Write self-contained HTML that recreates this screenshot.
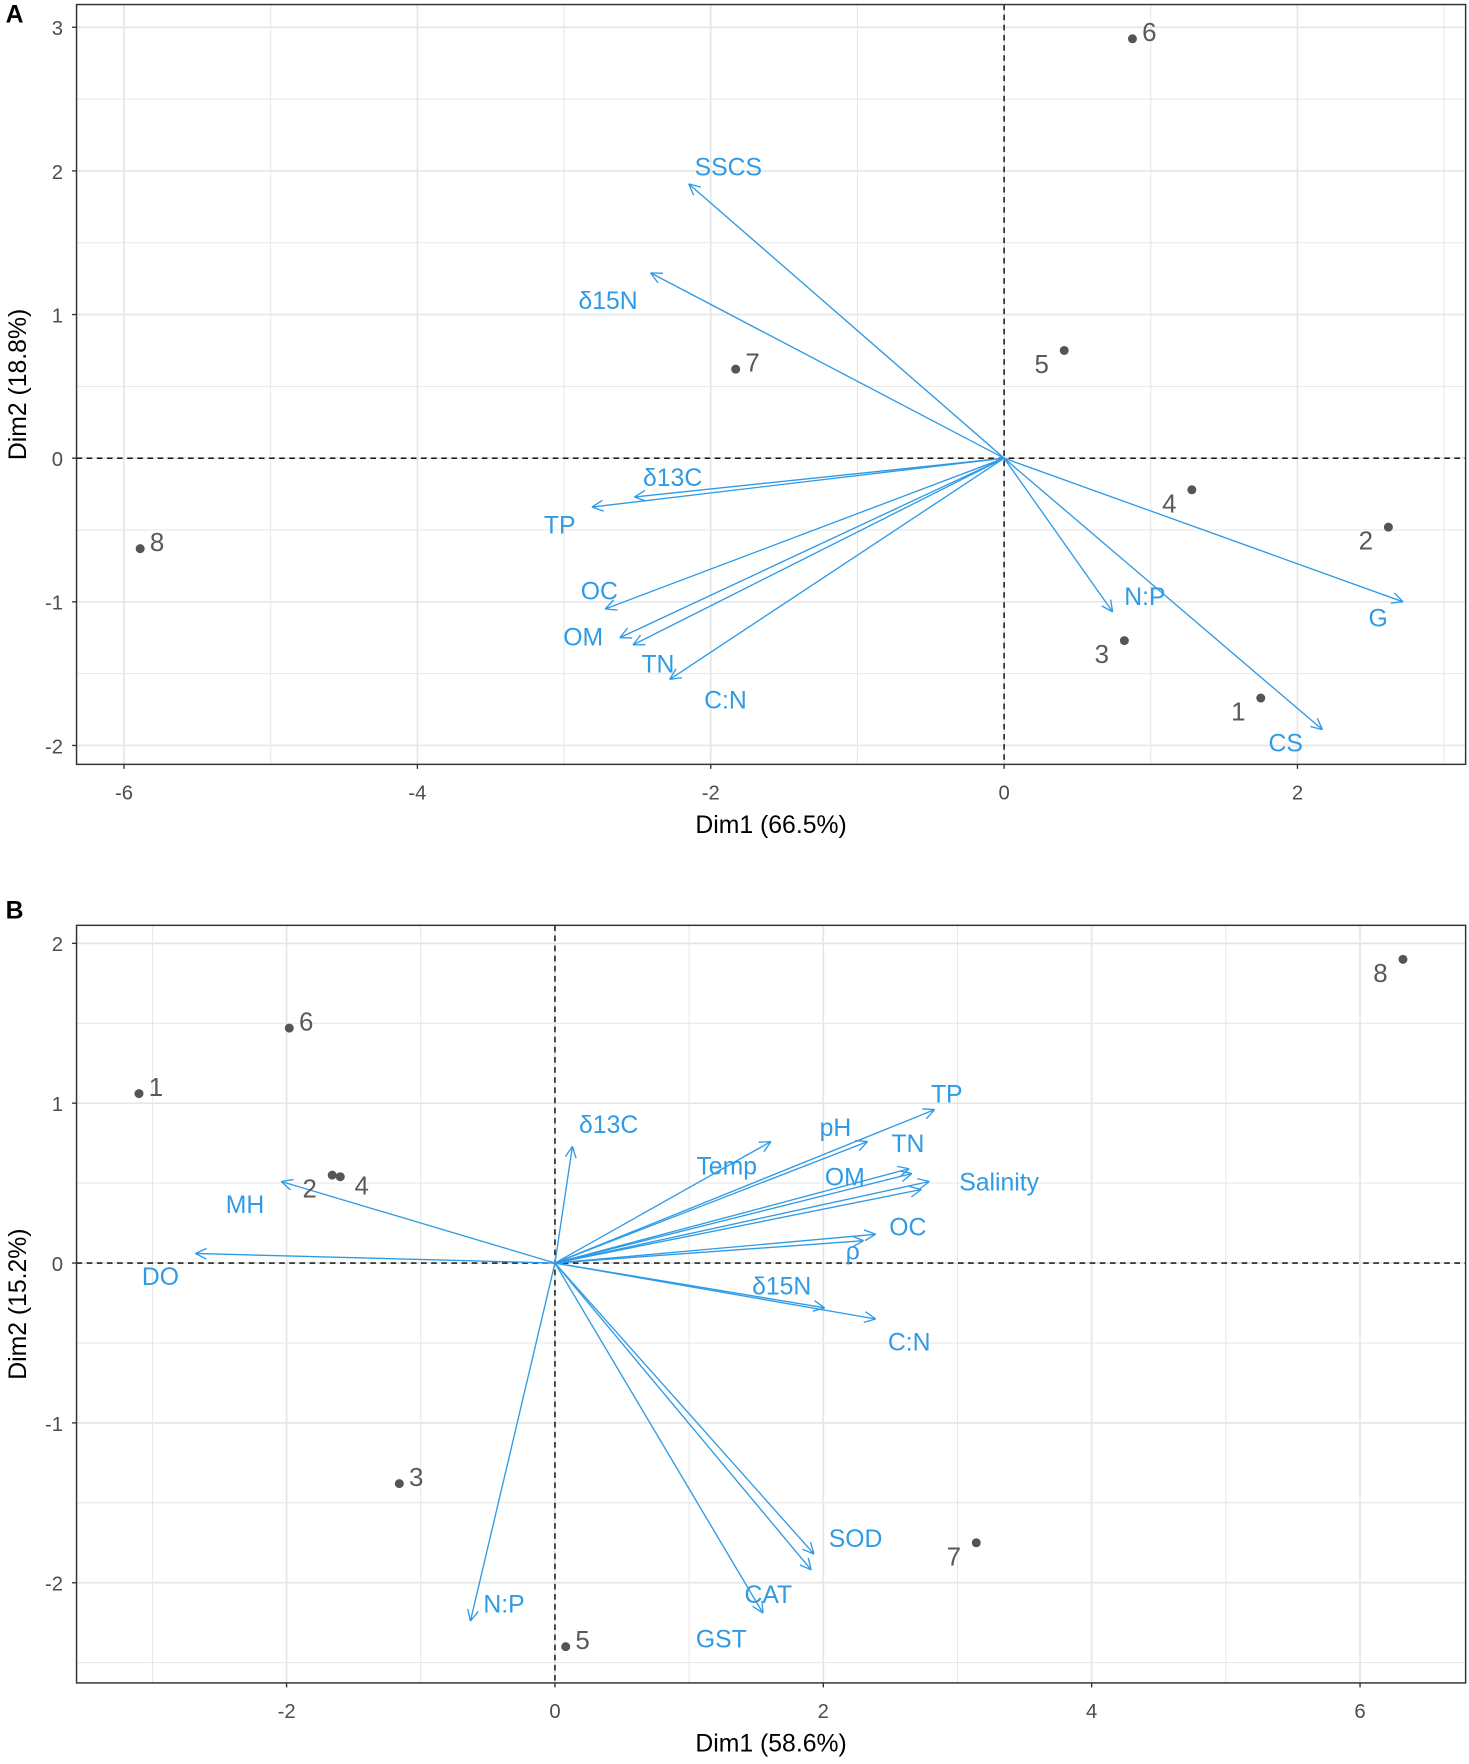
<!DOCTYPE html>
<html><head><meta charset="utf-8"><style>
html,body{margin:0;padding:0;background:#fff;}
svg{display:block;font-family:"Liberation Sans",sans-serif;}
</style></head><body>
<svg id="fig" width="1469" height="1764" viewBox="0 0 1305 1567" xmlns="http://www.w3.org/2000/svg"></svg>
<script>
// ---------- Panel A data ----------
const aPointIds = ["1","2","3","4","5","6","7","8"];
const aPointX = [1.75, 2.62, 0.82, 1.28, 0.41, 0.875, -1.83, -5.89];
const aPointY = [-1.67, -0.48, -1.27, -0.22, 0.75, 2.92, 0.62, -0.63];
const aPointSide = ["l","l","l","l","l","r","r","r"];
const aVarNames = ["SSCS","δ15N","δ13C","TP","OC","OM","TN","C:N","N:P","G","CS"];
const aVarX = [-2.15, -2.41, -2.52, -2.81, -2.72, -2.62, -2.53, -2.28, 0.74, 2.72, 2.17];
const aVarY = [1.91, 1.29, -0.27, -0.34, -1.05, -1.25, -1.30, -1.54, -1.07, -1.00, -1.89];
const aLabX = [-1.88, -2.70, -2.26, -3.03, -2.76, -2.87, -2.36, -1.90, 0.96, 2.55, 1.92];
const aLabY = [2.03, 1.10, -0.13, -0.46, -0.92, -1.24, -1.43, -1.68, -0.96, -1.11, -1.98];
const aXTicks = [-6, -4, -2, 0, 2];
const aYTicks = [-2, -1, 0, 1, 2, 3];

// ---------- Panel B data ----------
const bPointIds = ["1","2","3","4","5","6","7","8"];
const bPointX = [-3.10, -1.66, -1.16, -1.60, 0.08, -1.98, 3.14, 6.32];
const bPointY = [1.06, 0.55, -1.38, 0.54, -2.40, 1.47, -1.75, 1.90];
const bPointSide = ["r","l","r","rb","r","r","l","l"];
const bVarNames = ["δ13C","Temp","pH","TP","TN","OM","Salinity","Salinity2","OC","ρ","δ15N","C:N","MH","DO","N:P","CAT","GST","SOD"];
const bVarX = [0.13, 1.61, 2.33, 2.83, 2.64, 2.66, 2.79, 2.73, 2.39, 2.30, 2.01, 2.39, -2.04, -2.68, -0.63, 1.91, 1.55, 1.93];
const bVarY = [0.73, 0.76, 0.76, 0.96, 0.59, 0.56, 0.51, 0.46, 0.18, 0.14, -0.28, -0.35, 0.51, 0.06, -2.24, -1.92, -2.19, -1.82];
const bLabNames = ["δ13C","Temp","pH","TP","TN","OM","Salinity","OC","ρ","δ15N","C:N","MH","DO","N:P","CAT","GST","SOD"];
const bLabX = [0.40, 1.28, 2.09, 2.92, 2.63, 2.16, 3.31, 2.63, 2.22, 1.69, 2.64, -2.31, -2.94, -0.38, 1.59, 1.24, 2.24];
const bLabY = [0.87, 0.61, 0.85, 1.06, 0.75, 0.54, 0.51, 0.23, 0.08, -0.14, -0.49, 0.37, -0.08, -2.13, -2.07, -2.35, -1.72];
const bXTicks = [-2, 0, 2, 4, 6];
const bYTicks = [-2, -1, 0, 1, 2];

const NS = "http://www.w3.org/2000/svg";
const svg = document.getElementById("fig");
const BLUE = "#2f9be6";
function mk(tag, attrs, parent) {
  const e = document.createElementNS(NS, tag);
  for (const k in attrs) e.setAttribute(k, attrs[k]);
  (parent || svg).appendChild(e);
  return e;
}

function panel(cfg) {
  const g = mk("g", {});
  
  
  const sx = v => cfg.x0 + v * cfg.kx;
  const sy = v => cfg.y0 - v * cfg.ky;
  const L = cfg.left, R = cfg.right, T = cfg.top, B = cfg.bottom;
  mk("rect", {x: L, y: T, width: R - L, height: B - T, fill: "#fff"}, g);
  const grid = mk("g", {}, g);
  
  
  for (let v = cfg.xmin; v <= cfg.xmax; v += 1) {
    const px = sx(v);
    if (px < L || px > R) continue;
    mk("line", {x1: px, x2: px, y1: T, y2: B, stroke: "#e6e6e6", "stroke-width": (v % 2 === 0) ? 1.5 : 0.9}, grid);
  }
  for (let v = cfg.ymin; v <= cfg.ymax; v += 0.5) {
    const py = sy(v);
    if (py < T || py > B) continue;
    mk("line", {x1: L, x2: R, y1: py, y2: py, stroke: "#e6e6e6", "stroke-width": (Number.isInteger(v)) ? 1.5 : 0.9}, grid);
  }
  const zx = mk("line", {x1: sx(0), x2: sx(0), y1: T, y2: B, stroke: "#000", "stroke-width": 1.2, "stroke-dasharray": "5,4"}, g);
  
  
  const zy = mk("line", {x1: L, x2: R, y1: sy(0), y2: sy(0), stroke: "#000", "stroke-width": 1.2, "stroke-dasharray": "5,4"}, g);
  
  
  for (let i = 0; i < cfg.varX.length; i++) {
    const x2 = sx(cfg.varX[i]), y2 = sy(cfg.varY[i]);
    const x1 = sx(0), y1 = sy(0);
    const a = mk("g", {}, g);
    
    
    mk("line", {x1, y1, x2, y2, stroke: BLUE, "stroke-width": 1.2}, a);
    const ang = Math.atan2(y2 - y1, x2 - x1);
    const hl = 11, spread = 0.45;
    for (const s of [1, -1]) {
      mk("line", {x1: x2, y1: y2, x2: x2 - hl * Math.cos(ang + s * spread), y2: y2 - hl * Math.sin(ang + s * spread), stroke: BLUE, "stroke-width": 1.2}, a);
    }
  }
  for (let i = 0; i < cfg.labNames.length; i++) {
    const t = mk("text", {x: sx(cfg.labX[i]), y: sy(cfg.labY[i]) + 8, "text-anchor": "middle", "font-size": 22, fill: BLUE}, g);
    t.textContent = cfg.labNames[i];
    
    
  }
  for (let i = 0; i < cfg.ptX.length; i++) {
    const px = sx(cfg.ptX[i]), py = sy(cfg.ptY[i]);
    const c = mk("circle", {cx: px, cy: py, r: 4, fill: "#555"}, g);
    
    
    let tx, ty;
    const s = cfg.ptSide[i];
    if (s === "r") { tx = px + 15; ty = py - 6; }
    else if (s === "rb") { tx = px + 19; ty = py + 8; }
    else { tx = px - 20; ty = py + 12; }
    const t = mk("text", {x: tx, y: ty + 8, "text-anchor": "middle", "font-size": 23, fill: "#595959"}, g);
    t.textContent = cfg.ptIds[i];
    
    
  }
  const fr = mk("rect", {x: L, y: T, width: R - L, height: B - T, fill: "none", stroke: "#333", "stroke-width": 1.3}, g);
  
  
  for (const v of cfg.xTicks) {
    const px = sx(v);
    mk("line", {x1: px, x2: px, y1: B, y2: B + 4, stroke: "#333", "stroke-width": 1.2}, g);
    const t = mk("text", {x: px, y: B + 31, "text-anchor": "middle", "font-size": 18, fill: "#4d4d4d"}, g);
    t.textContent = v;
    
    
  }
  for (const v of cfg.yTicks) {
    const py = sy(v);
    mk("line", {x1: L - 4, x2: L, y1: py, y2: py, stroke: "#333", "stroke-width": 1.2}, g);
    const t = mk("text", {x: L - 12, y: py + 7, "text-anchor": "end", "font-size": 18, fill: "#4d4d4d"}, g);
    t.textContent = v;
    
    
  }
  const xt = mk("text", {x: (L + R) / 2, y: B + 61, "text-anchor": "middle", "font-size": 22, fill: "#000"}, g);
  xt.textContent = cfg.xTitle;
  
  
  const ym = (T + B) / 2;
  const yt = mk("text", {x: 23, y: ym, "text-anchor": "middle", "font-size": 22, fill: "#000", transform: "rotate(-90 23 " + ym + ")"}, g);
  yt.textContent = cfg.yTitle;
  
  
  const pl = mk("text", {x: 5, y: cfg.letterY, "font-size": 22, "font-weight": "bold", fill: "#000"}, g);
  pl.textContent = cfg.letter;
  
  
}

panel({name: "panel-a", letter: "A", letterY: 20, left: 68, right: 1302, top: 4, bottom: 679,
  x0: 892, kx: 130.3, y0: 407, ky: 127.6, xmin: -7, xmax: 4, ymin: -3, ymax: 4,
  xTicks: aXTicks, yTicks: aYTicks, xTitle: "Dim1 (66.5%)", yTitle: "Dim2 (18.8%)",
  ptIds: aPointIds, ptX: aPointX, ptY: aPointY, ptSide: aPointSide,
  varNames: aVarNames, varX: aVarX, varY: aVarY,
  labNames: aVarNames, labX: aLabX, labY: aLabY});

panel({name: "panel-b", letter: "B", letterY: 816, left: 68, right: 1302, top: 822, bottom: 1495,
  x0: 493, kx: 119.2, y0: 1122, ky: 142, xmin: -4, xmax: 7, ymin: -3, ymax: 3,
  xTicks: bXTicks, yTicks: bYTicks, xTitle: "Dim1 (58.6%)", yTitle: "Dim2 (15.2%)",
  ptIds: bPointIds, ptX: bPointX, ptY: bPointY, ptSide: bPointSide,
  varNames: bVarNames, varX: bVarX, varY: bVarY,
  labNames: bLabNames, labX: bLabX, labY: bLabY});
</script>
</body></html>
